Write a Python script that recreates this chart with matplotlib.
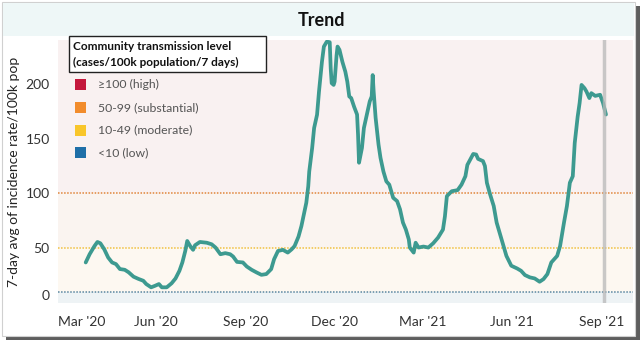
import numpy as np
import pandas as pd
import matplotlib
matplotlib.use("Agg")
import matplotlib.pyplot as plt
import matplotlib.dates as mdates
import matplotlib.transforms as mtransforms
from matplotlib.patches import Rectangle

plt.rcParams['font.family'] = ['Lato', 'DejaVu Sans']

# days since 1 Mar 2020 and 7-day avg incidence rate per 100k
start = pd.Timestamp('2020-03-01')
days = [20, 24, 29, 32, 35, 39, 43, 47, 51, 55, 60, 64, 69, 74, 79, 82, 87, 91, 95, 98,
        103, 108, 112, 116, 119, 122, 124, 127, 130, 132, 137, 144, 149, 153, 158, 163, 168, 171, 175, 181,
        185, 190, 195, 200, 205, 210, 213, 217, 222, 227, 231, 234, 238, 241, 245, 246, 248, 249, 252, 254,
        257, 259, 262, 264, 267, 270, 271, 272, 274, 275, 277, 278, 280, 283, 286, 288, 290, 292, 295, 298,
        299, 300, 303, 305, 308, 311, 313, 314, 315, 317, 320, 322, 325, 328, 331, 335, 339, 342, 345, 348,
        351, 352, 356, 358, 361, 366, 371, 376, 381, 386, 388, 390, 395, 401, 405, 409, 411, 414, 417, 420,
        422, 427, 429, 431, 434, 438, 441, 444, 448, 451, 456, 462, 466, 470, 475, 480, 485, 489, 493, 497,
        503, 506, 510, 513, 516, 519, 521, 524, 526, 528, 531, 533, 536, 538, 542, 547, 550, 553]
rate = [37, 44.5, 52, 55.7, 54.5, 49, 41.5, 37, 35.5, 31, 30.3, 28, 24, 22, 20.3, 17.3, 14.3, 15.7, 17.3, 14.3,
        14.3, 18, 22.4, 29.4, 37, 47.5, 56.6, 52, 48.5, 52.7, 55.7, 55, 53.6, 50.6, 44.5, 45.5, 44.5, 42.4, 37.5, 37,
        33.3, 30.3, 27.9, 25.7, 26.4, 30.9, 40, 47.5, 48.5, 46, 49, 52, 60.6, 70.3, 87, 91.5, 106.6, 120, 141.5, 159.7,
        171.8, 193, 220, 234, 238.5, 238, 214, 200.6, 199, 202, 226, 234, 231, 220, 211, 202, 188.5, 187, 179, 172,
        153.6, 128, 141.5, 159.7, 172, 184, 188.5, 208, 193, 169, 144.5, 132.5, 120, 111, 108, 96, 93, 85.5, 73.4, 67,
        58, 50.6, 46, 55, 50.6, 51.5, 50.6, 54.5, 59.7, 67, 79, 97.5, 102, 103, 108, 115.7, 126, 131, 136, 135.5,
        131.5, 129.5, 125, 109.7, 100, 88.5, 73.4, 64.3, 52, 43, 34, 31.5, 29.4, 25.5, 23.4, 22.4, 19.4, 21.8, 26.4, 37,
        43, 52, 73.4, 88.5, 109.7, 115.7, 146, 170, 182.5, 199, 196, 193, 187, 191.5, 189, 190, 182.5, 172]
latest_day = 551

levels = ['\u2265100 (high)', '50-99 (substantial)', '10-49 (moderate)', '<10 (low)']
level_colors = ['#c4183c', '#f28c2c', '#f9c62a', '#1f6fa8']
bands = [(100, 240, '#f9f1f1'), (50, 100, '#faf4f0'), (10, 50, '#fdf8f1'), (0, 10, '#eef3f5')]
thresholds = [(100, '#e0853a'), (50, '#f0c040'), (10, '#5a86a0')]

dates = start + pd.to_timedelta(days, unit='D')

W, H = 644, 343
fig = plt.figure(figsize=(W / 100, H / 100), dpi=100)

def fx(x):
    return x / W

def fy(y):
    return 1 - y / H

# card with shadow
fig.patches.append(Rectangle((fx(6), fy(340)), fx(634), 334 / H, transform=fig.transFigure,
                             facecolor='#5e5e5e', edgecolor='none', zorder=0))
fig.patches.append(Rectangle((fx(2), fy(336)), fx(633), 334 / H, transform=fig.transFigure,
                             facecolor='white', edgecolor='#d0d0d0', lw=0.8, zorder=1))
fig.patches.append(Rectangle((fx(3), fy(36)), fx(631), 33 / H, transform=fig.transFigure,
                             facecolor='#eef7f7', edgecolor='none', zorder=2))
fig.text(fx(322), fy(20), 'Trend', ha='center', va='center', fontsize=13, fontweight='bold', color='#111111')

ax = fig.add_axes([fx(58), fy(303), 575 / W, 263 / H])
ax.set_zorder(3)
ax.set_ylim(0, 240)
ax.set_xlim(start - pd.Timedelta(days=8.4), start + pd.Timedelta(days=580.7))

for lo, hi, c in bands:
    ax.axhspan(lo, hi, color=c, lw=0, zorder=0)
for yv, c in thresholds:
    ax.axhline(yv, color=c, lw=1.1, ls=(0, (1, 1)), zorder=1)

ax.plot(dates, rate, color='#3d9a90', lw=2.7, solid_joinstyle='round', solid_capstyle='round', zorder=3)
ax.axvline(start + pd.Timedelta(days=latest_day), color='#b8b8b8', lw=2.5, alpha=0.75, zorder=4)

for s in ax.spines.values():
    s.set_visible(False)
ax.tick_params(length=0, labelsize=10, labelcolor='#333333')
ax.tick_params(axis='x', pad=9)
ax.tick_params(axis='y', pad=6)
ax.set_yticks([0, 50, 100, 150, 200])
ax.xaxis.set_major_locator(mdates.MonthLocator(bymonth=[3, 6, 9, 12]))
ax.xaxis.set_major_formatter(mdates.DateFormatter("%b '%y"))
ax.set_ylabel('7-day avg of incidence rate/100k pop', fontsize=10, color='#222222', labelpad=4)

fig.canvas.draw()
first = ax.get_xticklabels()[0]
first.set_transform(first.get_transform() + mtransforms.ScaledTranslation(0.15, 0, fig.dpi_scale_trans))
zero = ax.get_yticklabels()[0]
zero.set_transform(zero.get_transform() + mtransforms.ScaledTranslation(0, 0.08, fig.dpi_scale_trans))

# legend box
fig.patches.append(Rectangle((fx(69), fy(72)), 197 / W, 36 / H, transform=fig.transFigure,
                             facecolor='white', edgecolor='#222222', lw=1.0, zorder=5))
fig.text(fx(73), fy(46), 'Community transmission level', ha='left', va='center',
         fontsize=8.5, fontweight='bold', color='#111111', zorder=6)
fig.text(fx(73), fy(62), '(cases/100k population/7 days)', ha='left', va='center',
         fontsize=8.5, fontweight='bold', color='#111111', zorder=6)
for i, (lab, c) in enumerate(zip(levels, level_colors)):
    yc = 84.5 + i * 22.8
    fig.patches.append(Rectangle((fx(75), fy(yc + 5.5)), 11 / W, 11 / H, transform=fig.transFigure,
                                 facecolor=c, edgecolor='none', zorder=6))
    fig.text(fx(98), fy(yc), lab, ha='left', va='center', fontsize=8.8, color='#555555', zorder=6)

fig.savefig('out.png', dpi=100)
